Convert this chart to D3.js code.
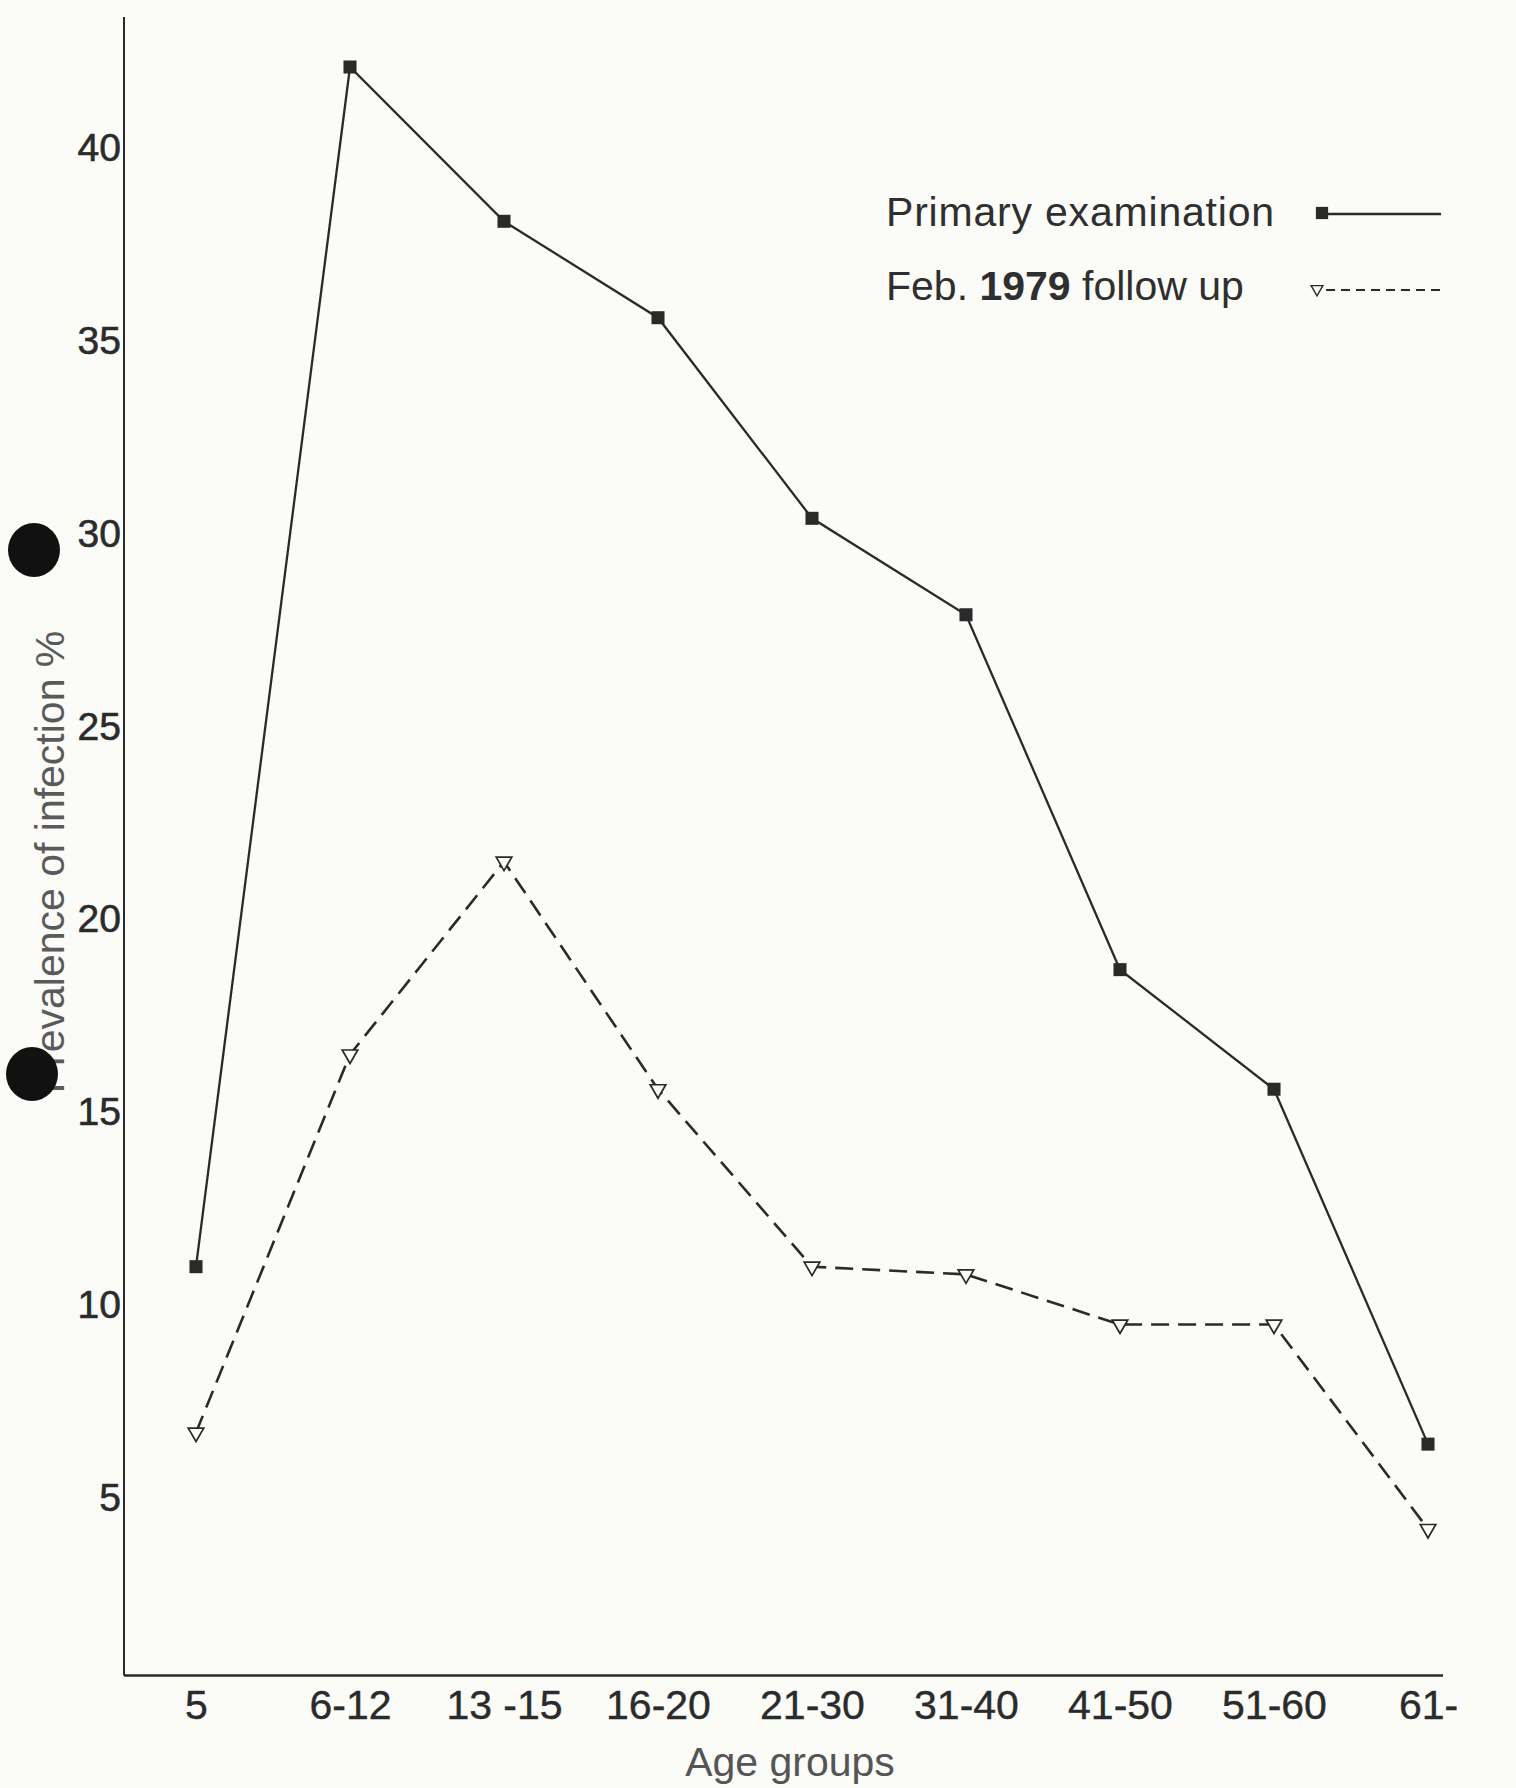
<!DOCTYPE html>
<html>
<head>
<meta charset="utf-8">
<script src="https://cdn.jsdelivr.net/npm/d3@7"></script>
<style>
  html, body { margin: 0; padding: 0; background: #fbfbf8; }
  svg { display: block; }
  text { font-family: "Liberation Sans", Arial, Helvetica, sans-serif; }
</style>
</head>
<body>
<div id="chart"></div>
<script>
// age groups on the x axis
const ageGroups = ["5", "6-12", "13 -15", "16-20", "21-30", "31-40", "41-50", "51-60", "61-"];
// prevalence of infection (%), primary examination
const primaryValues = [11.0, 42.1, 38.1, 35.6, 30.4, 27.9, 18.7, 15.6, 6.4];
// prevalence of infection (%), Feb. 1979 follow up
const followUpValues = [6.7, 16.5, 21.5, 15.6, 11.0, 10.8, 9.5, 9.5, 4.2];
const yTicks = [5, 10, 15, 20, 25, 30, 35, 40];

function makeScales() {
    const x = d3.scalePoint()
        .domain(ageGroups)
        .range([196, 1428]);
    const y = d3.scaleLinear()
        .domain([0, 40])
        .range([1691, 148]);
    return { x, y };
}

function makeSvg() {
    const result = d3.select("#chart").append("svg")
        .attr("width", 1516)
        .attr("height", 1788)
        .style("background", "#fbfbf8");
    return result;
}

function drawAxes(svg, scales) {
    const axisX = 124;
    const axisY = scales.y(0.4);
    const ink = "#2a2a2a";

    // y axis line
    svg.append("line")
        .attr("x1", axisX).attr("x2", axisX)
        .attr("y1", 17).attr("y2", axisY)
        .attr("stroke", ink).attr("stroke-width", 2);
    // x axis line
    svg.append("line")
        .attr("x1", axisX).attr("x2", 1443)
        .attr("y1", axisY).attr("y2", axisY)
        .attr("stroke", ink).attr("stroke-width", 2.4);

    // y tick labels (no tick marks in the original)
    const yAxis = d3.axisLeft(scales.y).tickValues(yTicks).tickSize(0).tickPadding(3);
    const gy = svg.append("g")
        .attr("transform", `translate(${axisX},0)`)
        .call(yAxis);
    gy.select(".domain").remove();
    gy.selectAll("text")
        .style("font-family", '"Liberation Sans", Arial, sans-serif')
        .style("font-size", "39px")
        .attr("fill", "#2b2b2b")
        .attr("stroke", "#2b2b2b").attr("stroke-width", 0.6);

    // x tick labels
    const xAxis = d3.axisBottom(scales.x).tickSize(0).tickPadding(14);
    const gx = svg.append("g")
        .attr("transform", `translate(0,${axisY})`)
        .call(xAxis);
    gx.select(".domain").remove();
    gx.selectAll("text")
        .style("font-family", '"Liberation Sans", Arial, sans-serif')
        .style("font-size", "41px")
        .attr("fill", "#2b2b2b")
        .attr("stroke", "#2b2b2b").attr("stroke-width", 0.4);

    // axis titles
    svg.append("text")
        .attr("x", 790).attr("y", 1776)
        .attr("text-anchor", "middle")
        .style("font-size", "41px")
        .attr("fill", "#555")
        .text("Age groups");

    svg.append("text")
        .attr("transform", "translate(64,862) rotate(-90)")
        .attr("text-anchor", "middle")
        .style("font-size", "41px")
        .attr("fill", "#5a5a5a")
        .text("Prevalence of infection %");
}

function drawSeries(svg, scales) {
    const line = d3.line()
        .x((d, i) => scales.x(ageGroups[i]))
        .y(d => scales.y(d));

    svg.append("path")
        .datum(followUpValues)
        .attr("d", line)
        .attr("fill", "none")
        .attr("stroke", "#2a2a2a")
        .attr("stroke-width", 2.6)
        .attr("stroke-dasharray", "18 9");

    svg.append("path")
        .datum(primaryValues)
        .attr("d", line)
        .attr("fill", "none")
        .attr("stroke", "#2a2a2a")
        .attr("stroke-width", 2.3);

    const square = d3.symbol().type(d3.symbolSquare).size(170);
    svg.append("g")
        .selectAll("path")
        .data(primaryValues)
        .enter().append("path")
        .attr("d", square)
        .attr("transform", (d, i) => `translate(${scales.x(ageGroups[i])},${scales.y(d)})`)
        .attr("fill", "#2a2a2a");

    const triangle = d3.symbol().type(d3.symbolTriangle).size(105);
    svg.append("g")
        .selectAll("path")
        .data(followUpValues)
        .enter().append("path")
        .attr("d", triangle)
        .attr("transform", (d, i) => `translate(${scales.x(ageGroups[i])},${scales.y(d)}) rotate(180)`)
        .attr("fill", "#fbfbf8")
        .attr("stroke", "#2a2a2a")
        .attr("stroke-width", 1.7);
}

function drawLegend(svg) {
    const ink = "#2a2a2a";
    svg.append("text")
        .attr("x", 886).attr("y", 226)
        .style("font-size", "41px")
        .style("letter-spacing", "0.8px")
        .attr("fill", "#2f2f2f")
        .text("Primary examination");
    svg.append("line")
        .attr("x1", 1320).attr("x2", 1441)
        .attr("y1", 214).attr("y2", 214)
        .attr("stroke", ink).attr("stroke-width", 2.4);
    svg.append("path")
        .attr("d", d3.symbol().type(d3.symbolSquare).size(150))
        .attr("transform", "translate(1322,213)")
        .attr("fill", ink);

    const t = svg.append("text")
        .attr("x", 886).attr("y", 300)
        .style("font-size", "41px")
        .attr("fill", "#2f2f2f");
    t.append("tspan").text("Feb. ");
    t.append("tspan").style("font-weight", "bold").text("1979");
    t.append("tspan").text(" follow up");
    svg.append("line")
        .attr("x1", 1326).attr("x2", 1441)
        .attr("y1", 290).attr("y2", 290)
        .attr("stroke", ink).attr("stroke-width", 2)
        .attr("stroke-dasharray", "9 6");
    svg.append("path")
        .attr("d", d3.symbol().type(d3.symbolTriangle).size(60))
        .attr("transform", "translate(1317,289) rotate(180)")
        .attr("fill", "#fbfbf8")
        .attr("stroke", ink).attr("stroke-width", 1.4);
}

function drawPunchHoles(svg) {
    // binder holes punched through the printed page
    const holes = [[34, 550], [32, 1074]];
    svg.append("g")
        .selectAll("ellipse")
        .data(holes)
        .enter().append("ellipse")
        .attr("cx", d => d[0]).attr("cy", d => d[1])
        .attr("rx", 26).attr("ry", 27)
        .attr("fill", "#111");
}

const scales = makeScales();
const svg = makeSvg();
drawAxes(svg, scales);
drawSeries(svg, scales);
drawLegend(svg);
drawPunchHoles(svg);
</script>
</body>
</html>
